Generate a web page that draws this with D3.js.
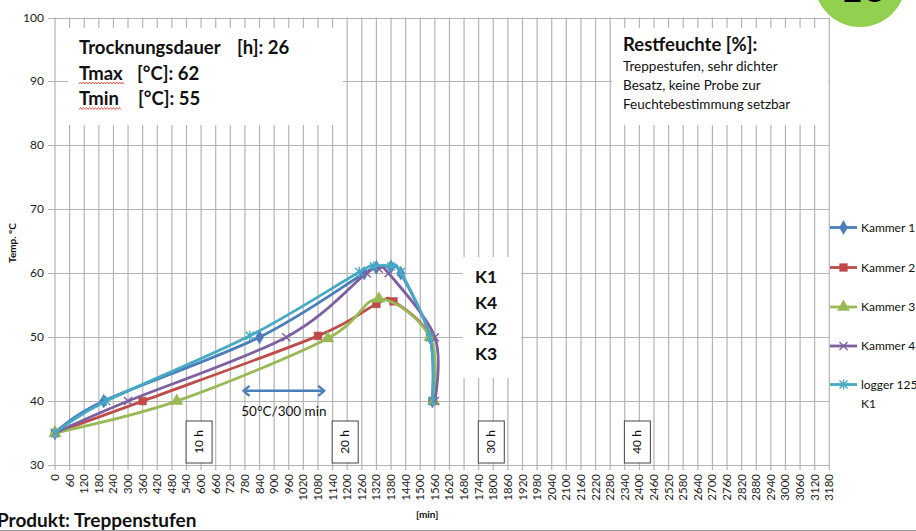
<!DOCTYPE html>
<html>
<head>
<meta charset="utf-8">
<script src="https://cdn.jsdelivr.net/npm/d3@7"></script>
<style>
  html, body { margin: 0; padding: 0; background: #fff; overflow: hidden; }
  svg { display: block; font-family: Lato, "Open Sans", sans-serif; }
</style>
</head>
<body>
<svg id="chart" width="916" height="531"></svg>
<script>
// Drying run: chamber temperatures over time
const xTicks = d3.range(0, 3181, 60);          // minutes
const yTicks = d3.range(30, 101, 10);          // °C
const hourMarks = [10, 20, 30, 40];            // hours

const seriesNames = ["Kammer 1", "Kammer 2", "Kammer 3", "Kammer 4", "logger 125 K1"];
const seriesColors = ["#4a7ebb", "#be4b48", "#98b954", "#7d60a0", "#46aac5"];
const seriesSymbols = ["diamond", "square", "triangle", "x", "star"];

const k1Time = [0, 200, 840, 1270, 1320, 1380, 1420, 1540, 1550];
const k1Temp = [35, 40, 50, 60, 60.9, 61, 60, 50, 40];
const k2Time = [0, 360, 1080, 1320, 1390, 1540, 1550];
const k2Temp = [35, 40, 50.2, 55.2, 55.6, 50, 40];
const k3Time = [0, 500, 1120, 1330, 1540, 1555];
const k3Temp = [35, 40, 49.8, 56, 50, 40];
const k4Time = [0, 300, 950, 1280, 1330, 1370, 1560, 1560];
const k4Temp = [35, 40, 50, 60, 60.7, 60, 50, 40];
const lgTime = [0, 210, 800, 1250, 1310, 1380, 1420, 1540, 1550];
const lgTemp = [35, 40, 50.2, 60.2, 61.1, 61.1, 60.2, 50, 40];

const seriesTimes = [k1Time, k2Time, k3Time, k4Time, lgTime];
const seriesTemps = [k1Temp, k2Temp, k3Temp, k4Temp, lgTemp];

const infoLabels = ["Trocknungsdauer", "Tmax", "Tmin"];
const infoValues = ["[h]: 26", "[°C]: 62", "[°C]: 55"];
const moistTitle = "Restfeuchte [%]:";
const moistLines = ["Treppestufen, sehr dichter", "Besatz, keine Probe zur", "Feuchtebestimmung setzbar"];
const chamberOrder = ["K1", "K4", "K2", "K3"];

const svg = d3.select("#chart");
const W = 916, H = 531;
const m = { left: 55, right: 829.3, top: 17.5, bottom: 465 };

const x = d3.scaleLinear().domain([0, 3180]).range([m.left, m.right]);
const y = d3.scaleLinear().domain([30, 100]).range([m.bottom, m.top]);

const gridColor = "#b4b4b4";

// badge in the top-right corner
svg.append("circle").attr("cx", 860).attr("cy", -19).attr("r", 46).attr("fill", "#92d050");
svg.append("text").attr("x", 863).attr("y", 2).attr("text-anchor", "middle")
  .attr("font-size", 40).attr("font-weight", 700).attr("fill", "#000").text("16");

// gridlines
const grid = svg.append("g");
grid.selectAll("line.h").data(yTicks).join("line")
  .attr("x1", m.left - 7).attr("x2", m.right)
  .attr("y1", d => Math.round(y(d)) + 0.5).attr("y2", d => Math.round(y(d)) + 0.5)
  .attr("stroke", gridColor).attr("stroke-width", 1.2);
grid.selectAll("line.v").data(xTicks).join("line")
  .attr("x1", d => x(d)).attr("x2", d => x(d))
  .attr("y1", m.top).attr("y2", m.bottom + 5)
  .attr("stroke", gridColor).attr("stroke-width", 1.2);

// y tick labels
svg.append("g").selectAll("text").data(yTicks).join("text")
  .attr("x", 44).attr("y", d => y(d) + 4).attr("text-anchor", "end")
  .attr("font-size", 12).attr("fill", "#222").text(d => d);

// x tick labels (rotated)
svg.append("g").selectAll("text").data(xTicks).join("text")
  .attr("transform", d => `translate(${x(d) + 4},474) rotate(-90)`)
  .attr("text-anchor", "end").attr("font-size", 11.5).attr("fill", "#222").text(d => d);

// axis titles
svg.append("text").attr("transform", "translate(16,243) rotate(-90)")
  .attr("text-anchor", "middle").attr("font-size", 10).attr("font-weight", 700)
  .attr("fill", "#111").text("Temp. °C");
svg.append("text").attr("x", 416).attr("y", 518).attr("font-size", 10)
  .attr("font-weight", 700).attr("fill", "#111").text("[min]");

// info box (top left)
svg.append("rect").attr("x", 68).attr("y", 28).attr("width", 275).attr("height", 97).attr("fill", "#fff");
const valueX = [237, 137, 138];
infoLabels.forEach((lab, i) => {
  const t = svg.append("text").attr("y", 54 + i * 25.5)
    .attr("font-size", 18.5).attr("font-weight", 700).attr("fill", "#111");
  t.append("tspan").attr("x", 79).text(lab);
  t.append("tspan").attr("x", valueX[i]).text(infoValues[i]);
});

// spell-check squiggles under Tmax / Tmin
function squiggle(x0, x1, yy) {
  const pts = d3.range(x0, x1 + 0.1, 1.5).map((px, i) => [px, yy + (i % 2 ? -1 : 1)]);
  svg.append("path").attr("d", d3.line()(pts)).attr("fill", "none")
    .attr("stroke", "#e0392b").attr("stroke-width", 0.8);
}
squiggle(79, 125, 83);
squiggle(79, 121, 108.5);

// residual moisture box (top right)
svg.append("rect").attr("x", 612).attr("y", 28).attr("width", 216).attr("height", 97).attr("fill", "#fff");
svg.append("text").attr("x", 623).attr("y", 51).attr("font-size", 18.5)
  .attr("font-weight", 700).attr("fill", "#111").text(moistTitle);
svg.append("g").selectAll("text").data(moistLines).join("text")
  .attr("x", 623).attr("y", (d, i) => 71 + i * 19)
  .attr("font-size", 13.5).attr("fill", "#111").text(d => d);

// chamber order box
svg.append("rect").attr("x", 463).attr("y", 257).attr("width", 58).attr("height", 121).attr("fill", "#fff");
svg.append("g").selectAll("text").data(chamberOrder).join("text")
  .attr("x", 475).attr("y", (d, i) => 283 + i * 25.8)
  .attr("font-size", 17.5).attr("font-weight", 700).attr("fill", "#111").text(d => d);

// hour markers
const hg = svg.append("g").selectAll("g").data(hourMarks).join("g")
  .attr("transform", d => `translate(${x(d * 60) - 2},0)`);
hg.append("rect").attr("x", -13).attr("y", 421).attr("width", 26).attr("height", 42)
  .attr("fill", "#fff").attr("stroke", "#444").attr("stroke-width", 1);
hg.append("text").attr("transform", "translate(4,442) rotate(-90)")
  .attr("text-anchor", "middle").attr("font-size", 12).attr("fill", "#111")
  .text(d => d + " h");

// 50°C / 300 min arrow
const arrowY = y(41.6), ax0 = x(770), ax1 = x(1110);
const arrowColor = "#4a7ebb";
svg.append("line").attr("x1", ax0 + 1).attr("x2", ax1 - 1).attr("y1", arrowY).attr("y2", arrowY)
  .attr("stroke", arrowColor).attr("stroke-width", 2.5);
svg.append("path").attr("d", `M${ax0 + 7},${arrowY - 5} L${ax0 + 1},${arrowY} L${ax0 + 7},${arrowY + 5}`)
  .attr("fill", "none").attr("stroke", arrowColor).attr("stroke-width", 2.5).attr("stroke-linejoin", "round");
svg.append("path").attr("d", `M${ax1 - 7},${arrowY - 5} L${ax1 - 1},${arrowY} L${ax1 - 7},${arrowY + 5}`)
  .attr("fill", "none").attr("stroke", arrowColor).attr("stroke-width", 2.5).attr("stroke-linejoin", "round");
svg.append("text").attr("x", (ax0 + ax1) / 2).attr("y", 416).attr("text-anchor", "middle")
  .attr("font-size", 13.5).attr("fill", "#111").text("50°C/300 min");

// marker shapes
function markerPath(type) {
  switch (type) {
    case "diamond": return d3.symbol(d3.symbolDiamond, 55)();
    case "square": return d3.symbol(d3.symbolSquare, 60)();
    case "triangle": return d3.symbol(d3.symbolTriangle, 65)();
    case "x": return "M-4,-4L4,4M-4,4L4,-4";
    case "star": return "M-4,-4L4,4M-4,4L4,-4M0,-5L0,5";
  }
}
function drawMarker(g, type, color) {
  const stroked = type === "x" || type === "star";
  g.append("path").attr("d", markerPath(type))
    .attr("fill", stroked ? "none" : color)
    .attr("stroke", color).attr("stroke-width", stroked ? 1.4 : 0.5);
}

// series lines
const line = d3.line().x(d => x(d[0])).y(d => y(d[1])).curve(d3.curveCatmullRom.alpha(0));
seriesNames.forEach((name, i) => {
  const pts = seriesTimes[i].map((t, j) => [t, seriesTemps[i][j]]);
  const g = svg.append("g");
  g.append("path").attr("d", line(pts)).attr("fill", "none")
    .attr("stroke", seriesColors[i]).attr("stroke-width", 2.8);
  pts.forEach(p => {
    drawMarker(g.append("g").attr("transform", `translate(${x(p[0])},${y(p[1])})`), seriesSymbols[i], seriesColors[i]);
  });
});

// legend
const legendY = [227.5, 267.5, 307, 346, 384.5];
seriesNames.forEach((name, i) => {
  const g = svg.append("g").attr("transform", `translate(0,${legendY[i]})`);
  g.append("line").attr("x1", 830).attr("x2", 857).attr("y1", 0).attr("y2", 0)
    .attr("stroke", seriesColors[i]).attr("stroke-width", 2.8);
  drawMarker(g.append("g").attr("transform", "translate(843.5,0)"), seriesSymbols[i], seriesColors[i]);
  const words = name === "logger 125 K1" ? ["logger 125", "K1"] : [name];
  words.forEach((w, k) => g.append("text").attr("x", 861).attr("y", 4 + k * 19)
    .attr("font-size", 12).attr("fill", "#111").text(w));
});

// product caption and bottom rule
svg.append("text").attr("x", -3).attr("y", 527).attr("font-size", 19)
  .attr("font-weight", 700).attr("fill", "#111").text("Produkt: Treppenstufen");
svg.append("line").attr("x1", 0).attr("x2", W).attr("y1", 530.5).attr("y2", 530.5)
  .attr("stroke", "#999").attr("stroke-width", 1);
</script>
</body>
</html>
